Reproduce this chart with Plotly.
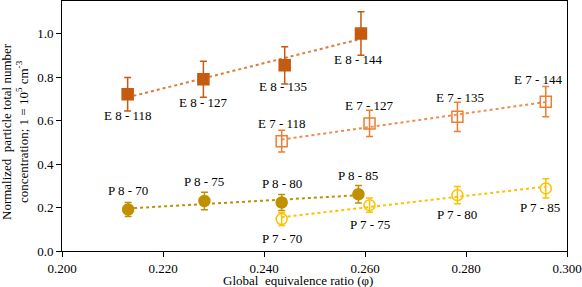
import numpy as np
import plotly.graph_objects as go

# ---- data ----
e8_x = [0.2130, 0.2280, 0.2441, 0.2592]
e8_y = [0.721, 0.790, 0.854, 1.000]
e8_err = [0.077, 0.083, 0.086, 0.100]
e8_lab = ["E 8 - 118", "E 8 - 127", "E 8 - 135", "E 8 - 144"]

e7_x = [0.2435, 0.2609, 0.2783, 0.2958]
e7_y = [0.505, 0.587, 0.617, 0.687]
e7_err = [0.050, 0.060, 0.067, 0.070]
e7_lab = ["E 7 - 118", "E 7 - 127", "E 7 - 135", "E 7 - 144"]

p8_x = [0.2131, 0.2282, 0.2435, 0.2587]
p8_y = [0.191, 0.230, 0.223, 0.261]
p8_err = [0.032, 0.040, 0.037, 0.040]
p8_lab = ["P 8 - 70", "P 8 - 75", "P 8 - 80", "P 8 - 85"]

p7_x = [0.2435, 0.2609, 0.2783, 0.2958]
p7_y = [0.147, 0.211, 0.257, 0.288]
p7_err = [0.030, 0.033, 0.040, 0.044]
p7_lab = ["P 7 - 70", "P 7 - 75", "P 7 - 80", "P 7 - 85"]

x_ticks = [0.200, 0.220, 0.240, 0.260, 0.280, 0.300]
y_ticks = [0.0, 0.2, 0.4, 0.6, 0.8, 1.0]

# ---- styles (label offsets in px: dx, dy screen-down) ----
FONT = "Liberation Serif"
series = [
    dict(x=e8_x, y=e8_y, err=e8_err, lab=e8_lab, color="#C55A11", line="#E07B39",
         symbol="square",
         off=[(0, 21), (0, 23), (-2, 21), (-2, 26)]),
    dict(x=e7_x, y=e7_y, err=e7_err, lab=e7_lab, color="#ED7D31", line="#F08C4F",
         symbol="square-open",
         off=[(0, -18), (0, -18), (3, -19), (-7, -22)]),
    dict(x=p8_x, y=p8_y, err=p8_err, lab=p8_lab, color="#BF9000", line="#BF9000",
         symbol="circle",
         off=[(0, -19), (0, -20), (0, -19), (0, -19)]),
    dict(x=p7_x, y=p7_y, err=p7_err, lab=p7_lab, color="#FFC000", line="#FFC000",
         symbol="circle-open",
         off=[(0, 19), (0, 19), (0, 19), (-6, 19)]),
]

fig = go.Figure()
annotations = []
for s in series:
    xs = np.array(s["x"]); ys = np.array(s["y"])
    k, b = np.polyfit(xs, ys, 1)
    xl = np.array([xs.min(), xs.max()])
    fig.add_trace(go.Scatter(x=xl, y=k * xl + b, mode="lines",
                             line=dict(color=s["line"], width=2, dash="dot"),
                             hoverinfo="skip", showlegend=False))
    fig.add_trace(go.Scatter(
        x=s["x"], y=s["y"], mode="markers", showlegend=False,
        error_y=dict(type="data", array=s["err"], visible=True,
                     color=s["color"], thickness=1.5, width=3.5),
        marker=dict(symbol=s["symbol"], size=11, color=s["color"],
                    line=dict(color=s["color"], width=1.5))))
    for xi, yi, lab, (dx, dy) in zip(s["x"], s["y"], s["lab"], s["off"]):
        annotations.append(dict(x=xi, y=yi, xref="x", yref="y", text=lab,
                                showarrow=False, xshift=dx, yshift=-dy,
                                font=dict(family=FONT, size=13, color="black")))

annotations.append(dict(x=0.5, y=0, xref="paper", yref="paper",
                        text="Global  equivalence ratio (φ)", showarrow=False,
                        xshift=-17, yshift=-29, yanchor="middle",
                        font=dict(family=FONT, size=13, color="black")))
annotations.append(dict(x=0, y=0.5, xref="paper", yref="paper",
                        text="Normalized  particle total number<br>concentration; 1 = 10<sup>5</sup> cm<sup>-3</sup>",
                        showarrow=False, textangle=-90, xanchor="center", yanchor="middle",
                        xshift=-47, yshift=-6,
                        font=dict(family=FONT, size=13, color="black")))

axis_common = dict(showgrid=False, zeroline=False, showline=True, linecolor="black",
                   linewidth=1, mirror=True, ticks="outside", ticklen=5,
                   tickcolor="black", tickfont=dict(family=FONT, size=13, color="black"))
fig.update_layout(
    width=582, height=287, paper_bgcolor="white", plot_bgcolor="white",
    font=dict(family=FONT, size=13, color="black"),
    margin=dict(l=62, r=15, t=1, b=36),
    xaxis=dict(range=[0.2, 0.3], tickvals=x_ticks,
               ticktext=[f"{v:.3f}" for v in x_ticks], **axis_common),
    yaxis=dict(range=[0, 1.15], tickvals=y_ticks,
               ticktext=[f"{v:.1f}" for v in y_ticks], **axis_common),
    annotations=annotations,
)
fig.write_html("out.html", config={"displayModeBar": False},
               post_script="document.body.style.margin='0';document.body.style.padding='0';")
